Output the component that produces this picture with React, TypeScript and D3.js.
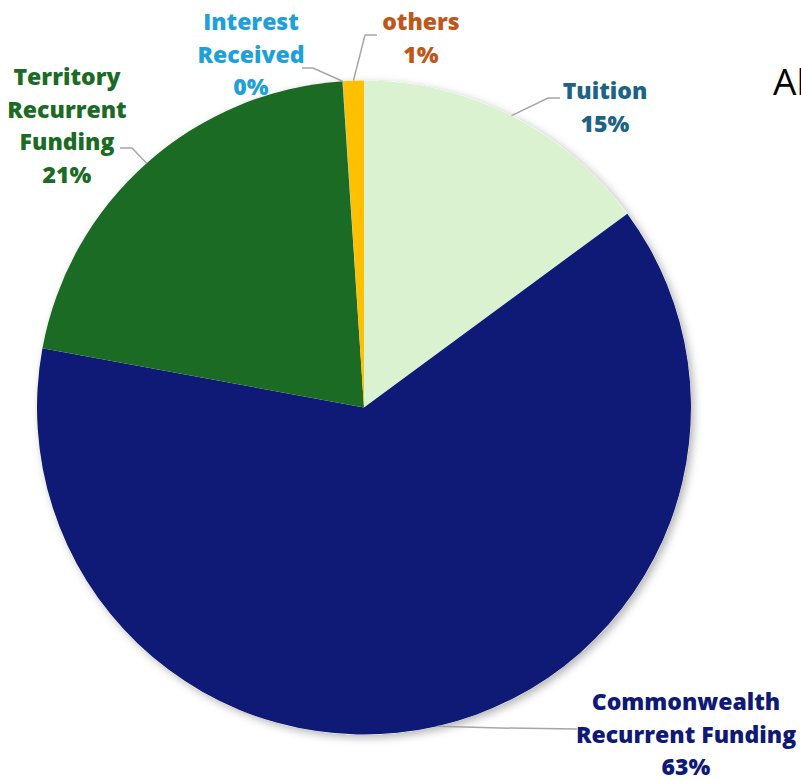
import React from "react";
import * as d3 from "d3";

const categories = ["Tuition", "Commonwealth Recurrent Funding", "Territory Recurrent Funding", "Interest Received", "others"];
const values = [14.9, 63.0, 21.05, 0.02, 1.03];
const labelLines = [["Tuition"], ["Commonwealth", "Recurrent Funding"], ["Territory", "Recurrent", "Funding"], ["Interest", "Received"], ["others"]];
const title = "All Income Sources";

const sliceColors = ["#DAF2D0", "#0E1A75", "#1B6B25", "#1A9FD8", "#FFC000"];
const labelColors = ["#1D6385", "#0E1A75", "#1B6B25", "#1FA0D8", "#C0571A"];

// label layout: text center x, first line center y, elbow point, leader end point
const layout = [
  { x: 605, y: 90, elbow: [548, 98], end: [560, 98] },
  { x: 686, y: 701, elbow: [500, 728], end: [577, 729] },
  { x: 67, y: 76, elbow: [132, 148], end: [120, 148] },
  { x: 251, y: 21, elbow: [313, 68], end: [302, 68] },
  { x: 421, y: 21, elbow: [365, 35], end: [377, 35] },
];

const W = 801, H = 780;
const cx = 364, cy = 407.5, R = 327;
const lineH = 32.5;

export default function App() {
  const total = d3.sum(values);
  const pie = d3.pie<number>().sort(null).value((d) => d)(values);
  const arc = d3.arc<d3.PieArcDatum<number>>().innerRadius(0).outerRadius(R);
  const edge = d3.arc<d3.PieArcDatum<number>>().innerRadius(R).outerRadius(R);
  const fmt = (v: number) => `${Math.round((v / total) * 100)}%`;

  return (
    <svg width={W} height={H} style={{ position: "absolute", left: 0, top: 0 }} fontFamily="'Open Sans', sans-serif">
      <defs>
        <filter id="sh" x="-10%" y="-10%" width="120%" height="120%">
          <feDropShadow dx="3" dy="3" stdDeviation="4" floodColor="#000" floodOpacity="0.3" />
        </filter>
      </defs>
      <rect width={W} height={H} fill="#fff" />
      <text x={773} y={95} fontSize={37} fill="#000" fontFamily="'Open Sans', sans-serif">{title}</text>
      <g transform={`translate(${cx},${cy})`}>
        <circle r={R} fill="#fff" filter="url(#sh)" />
        {pie.map((p, i) => (
          <path key={i} d={arc(p) || ""} fill={sliceColors[i]} />
        ))}
      </g>
      {pie.map((p, i) => {
        const [sx, sy] = edge.centroid(p);
        const L = layout[i];
        const pts = [[sx + cx, sy + cy], L.elbow, L.end];
        return (
          <polyline key={"l" + i} points={pts.map((q) => q.join(",")).join(" ")} fill="none" stroke="#A6A6A6" strokeWidth={1.5} />
        );
      })}
      {pie.map((p, i) => {
        const L = layout[i];
        const lines = [...labelLines[i], fmt(values[i])];
        return (
          <text key={"t" + i} textAnchor="middle" fontSize={23} fontWeight={800} fill={labelColors[i]}>
            {lines.map((s, j) => (
              <tspan key={j} x={L.x} y={L.y + j * lineH} dominantBaseline="central">{s}</tspan>
            ))}
          </text>
        );
      })}
    </svg>
  );
}
